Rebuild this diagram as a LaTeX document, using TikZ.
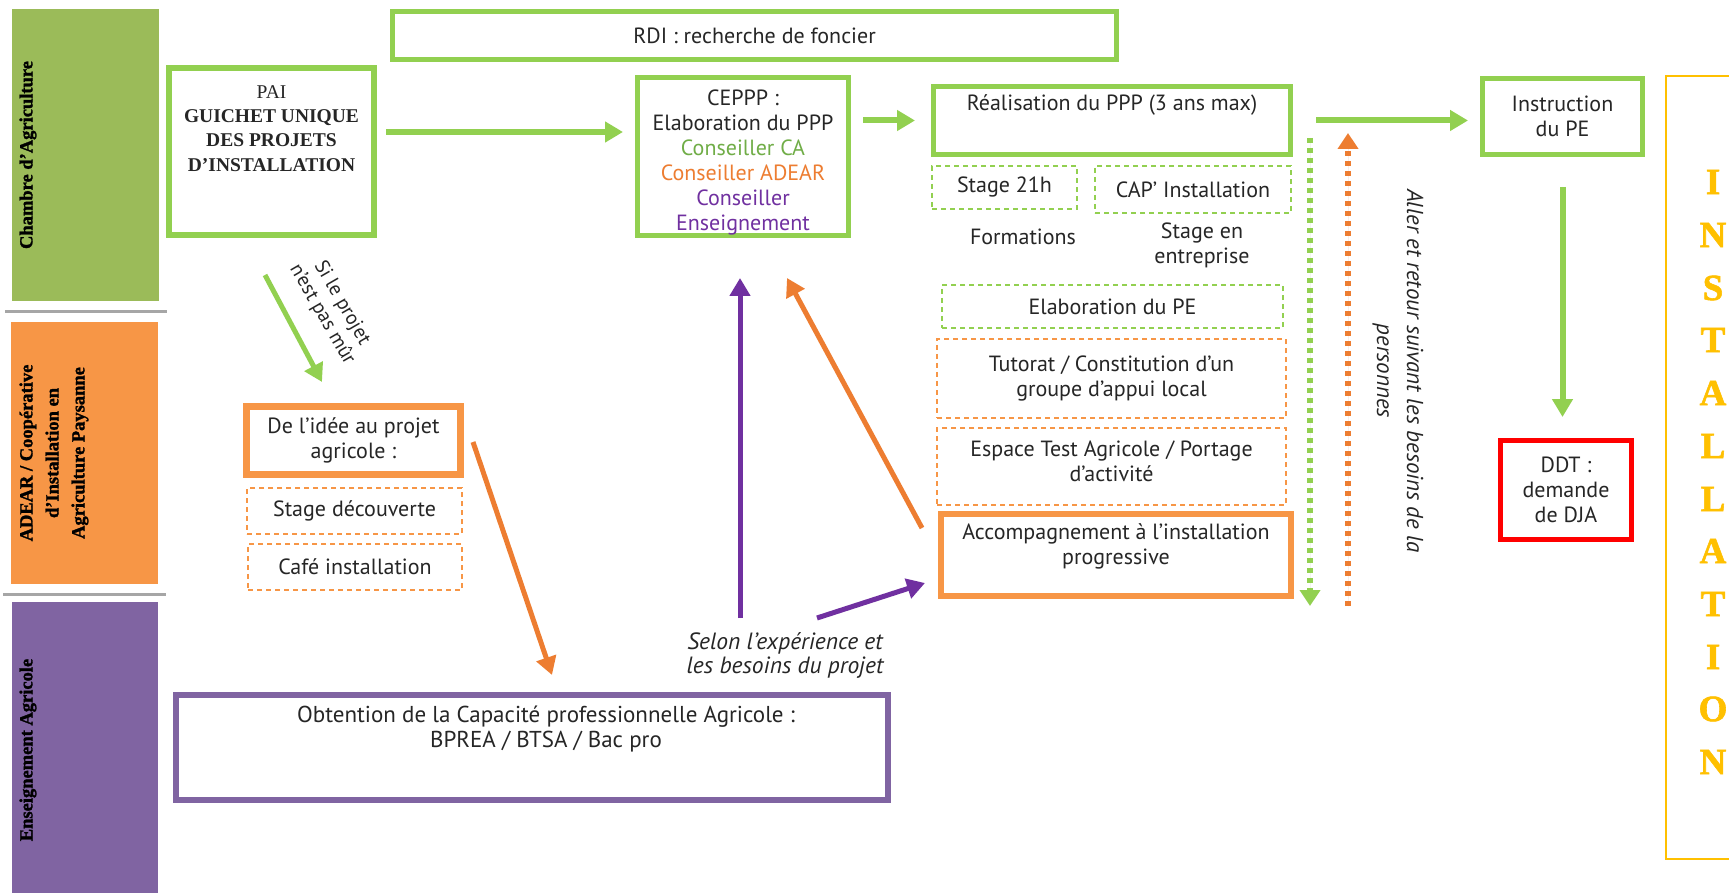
\documentclass[tikz,border=0pt]{standalone}
\usepackage{fontspec}
\setmainfont{PT Sans}
\newfontfamily\slab[BoldFeatures={FakeBold=1.5}]{Liberation Serif}
\newfontfamily\paiserif{Liberation Serif}
\usetikzlibrary{arrows.meta}
\definecolor{vertA}{HTML}{92D050}
\definecolor{vertB}{HTML}{9BBB59}
\definecolor{vertC}{HTML}{70AD47}
\definecolor{orngA}{HTML}{F79646}
\definecolor{orngB}{HTML}{ED7D31}
\definecolor{violA}{HTML}{8064A2}
\definecolor{violB}{HTML}{7030A0}
\definecolor{rouge}{HTML}{FF0000}
\definecolor{jaune}{HTML}{FFC000}
\definecolor{grisA}{HTML}{A6A6A6}
\definecolor{encre}{HTML}{262626}
\tikzstyle{cadre}=[rectangle,inner sep=0pt,align=center,text=encre,font=\fontsize{22}{25}\selectfont]
\tikzstyle{gbox}=[cadre,draw=vertA,line width=5pt]
\tikzstyle{obox}=[cadre,draw=orngA,line width=6pt]
\tikzstyle{pbox}=[cadre,draw=violA,line width=6pt]
\tikzstyle{rbox}=[cadre,draw=rouge,line width=5pt]
\tikzstyle{gdash}=[cadre,draw=vertA,line width=1.5pt,dash pattern=on 5pt off 4pt]
\tikzstyle{odash}=[cadre,draw=orngA,line width=1.5pt,dash pattern=on 5pt off 4pt]
\tikzstyle{txt}=[align=center,inner sep=0pt,text=encre,font=\fontsize{22}{25}\selectfont]
\tikzstyle{band}=[rectangle,inner sep=0pt]
\tikzstyle{bandtxt}=[rotate=90,align=center,inner sep=0pt,text=black,font=\slab\bfseries\fontsize{18.5}{26}\selectfont]
\tikzstyle{lettre}=[inner sep=0pt,text=jaune,font=\slab\bfseries\fontsize{37}{37}\selectfont]
\tikzstyle{garrow}=[-{Triangle[width=20pt,length=18pt]},draw=vertA,fill=vertA,line width=6pt]
\tikzstyle{oarrow}=[-{Triangle[width=20pt,length=18pt]},draw=orngB,fill=orngB,line width=5pt]
\tikzstyle{parrow}=[-{Triangle[width=20pt,length=18pt]},draw=violB,fill=violB,line width=5pt]
\tikzstyle{gdots}=[-{Triangle[width=20pt,length=16pt]},draw=vertA,fill=vertA,line width=6pt,dash pattern=on 5pt off 5pt]
\tikzstyle{odots}=[-{Triangle[width=20pt,length=16pt]},draw=orngB,fill=orngB,line width=6pt,dash pattern=on 5pt off 5pt]

\begin{document}
\begin{tikzpicture}[x=1pt,y=-1pt]
\useasboundingbox[fill=white] (0,0) rectangle (1729,893);

% bandes
\node[band,fill=vertB,minimum width=147pt,minimum height=292pt] at (85.5,155) (ca) {};
\node[band,fill=orngA,minimum width=147pt,minimum height=262pt] at (84.5,453) (adear) {};
\node[band,fill=violA,minimum width=146pt,minimum height=296pt] at (85,750) (ens) {};
\draw[grisA,line width=3pt] (5,311) -- (167,311);
\draw[grisA,line width=3pt] (3,594) -- (166,594);
\node[bandtxt] at (28,155) (catxt) {Chambre d’Agriculture};
\node[bandtxt] at (54,453) (adeartxt) {ADEAR / Coopérative\\d’Installation en\\Agriculture Paysanne};
\node[bandtxt] at (28,750) (enstxt) {Enseignement Agricole};

% boites
\node[gbox,minimum width=724pt,minimum height=48pt] at (754.5,35.5) (rdi) {RDI : recherche de foncier};
\node[gbox,line width=6pt,minimum width=205pt,minimum height=167pt] at (271.5,151.5) (pai) {};
\node[txt,font=\paiserif\fontsize{19.5}{24.3}\selectfont] at (271.5,128.5) (paitxt) {PAI\\\textbf{GUICHET UNIQUE}\\\textbf{DES PROJETS}\\\textbf{D’INSTALLATION}};
\node[gbox,minimum width=211pt,minimum height=158pt] at (743,156.5) (ceppp) {};
\node[txt] at (743,162.5) (cepptxt) {CEPPP :\\Elaboration du PPP\\\textcolor{vertC}{Conseiller CA}\\\textcolor{orngB}{Conseiller ADEAR}\\\textcolor{violB}{Conseiller}\\\textcolor{violB}{Enseignement}};
\node[gbox,minimum width=357pt,minimum height=68pt] at (1112,120.5) (real) {};
\node[txt] at (1112,105) (realtxt) {Réalisation du PPP (3 ans max)};
\node[gdash,minimum width=145pt,minimum height=43pt] at (1004.5,187.5) (stage) {Stage 21h};
\node[gdash,minimum width=196pt,minimum height=47pt] at (1193,189.5) (cap) {CAP’ Installation};
\node[txt] at (1023,237) (form) {Formations};
\node[txt] at (1202,245.5) (entr) {Stage en\\entreprise};
\node[gdash,minimum width=341pt,minimum height=43pt] at (1112.5,306.5) (elabpe) {Elaboration du PE};
\node[odash,minimum width=349pt,minimum height=79pt] at (1111.5,378.5) (tutorat) {Tutorat / Constitution d’un\\groupe d’appui local};
\node[odash,minimum width=349pt,minimum height=77pt] at (1111.5,466.5) (espace) {};
\node[txt] at (1111.5,461) (espacetxt) {Espace Test Agricole / Portage\\d’activité};
\node[obox,minimum width=350pt,minimum height=82pt] at (1116,555) (accomp) {};
\node[txt] at (1116,546.5) (accomptxt) {Accompagnement à l’installation\\progressive};
\node[gbox,minimum width=160pt,minimum height=76pt] at (1562.5,116.5) (instr) {Instruction\\du PE};
\node[rbox,minimum width=131pt,minimum height=99pt] at (1566,490) (ddt) {DDT :\\demande\\de DJA};
\node[obox,line width=7pt,minimum width=214pt,minimum height=68pt] at (353.5,440.5) (idee) {De l’idée au projet\\agricole :};
\node[odash,minimum width=215pt,minimum height=46pt] at (354.5,511) (decouv) {Stage découverte};
\node[odash,minimum width=214pt,minimum height=46pt] at (355,567) (cafe) {Café installation};
\node[pbox,minimum width=712pt,minimum height=105pt] at (532,747.5) (obt) {};
\node[txt,font=\fontsize{23}{25}\selectfont] at (546,729.5) (obttxt) {Obtention de la Capacité professionnelle Agricole :\\BPREA / BTSA / Bac pro};

% installation
\draw[jaune,line width=1.2pt] (1760,76) -- (1666,76) -- (1666,859) -- (1760,859);
\node[lettre] at (1713,182) (l1) {I};
\node[lettre] at (1713,235) (l2) {N};
\node[lettre] at (1713,288) (l3) {S};
\node[lettre] at (1713,340) (l4) {T};
\node[lettre] at (1713,393) (l5) {A};
\node[lettre] at (1713,446) (l6) {L};
\node[lettre] at (1713,499) (l7) {L};
\node[lettre] at (1713,551) (l8) {A};
\node[lettre] at (1713,604) (l9) {T};
\node[lettre] at (1713,657) (l10) {I};
\node[lettre] at (1713,709) (l11) {O};
\node[lettre] at (1713,762) (l12) {N};

% fleches
\coordinate (mur1) at (265,275);
\coordinate (mur2) at (322,382);
\coordinate (cap1) at (473,442);
\coordinate (cap2) at (552,675);
\coordinate (sel1) at (740,618);
\coordinate (sel2) at (817,618);
\coordinate (acc1) at (922,528);
\coordinate (acc2) at (787,278);
\coordinate (acc3) at (925,583);
\coordinate (va) at (1310,138);
\coordinate (vb) at (1310,606);
\coordinate (ra) at (1348,606);
\coordinate (rb) at (1348,133);
\draw[garrow,shorten <=9pt,shorten >=12pt] ([yshift=19.5pt]pai.east) -- ([yshift=24.5pt]ceppp.west);
\draw[garrow,shorten <=12pt,shorten >=16pt] (ceppp.east |- real.west) -- (real.west);
\draw[garrow,shorten <=23pt,shorten >=12pt] (real.east) -- (instr.west |- real.east);
\draw[garrow,shorten <=30pt,shorten >=21pt] (instr.south) -- (instr.south |- ddt.north);
\draw[garrow,line width=5pt] (mur1) -- (mur2);
\draw[oarrow] (cap1) -- (cap2);
\draw[parrow] (sel1) -- (sel1 |- acc2);
\draw[oarrow] (acc1) -- (acc2);
\draw[parrow] (sel2) -- (acc3);
\draw[gdots] (va) -- (vb);
\draw[odots] (ra) -- (rb);

% textes
\node[txt,rotate=-60,font=\fontsize{20}{23}\selectfont] at (332,309) (murtxt) {Si le projet\\n’est pas mûr};
\node[txt,font=\itshape\fontsize{23.5}{24}\selectfont] at (785,655) (seltxt) {Selon l’expérience et\\les besoins du projet};
\node[txt,rotate=-90,font=\itshape\fontsize{23}{30}\selectfont] at (1398,371) (allertxt) {Aller et retour suivant les besoins de la\\personnes};
\end{tikzpicture}
\end{document}
